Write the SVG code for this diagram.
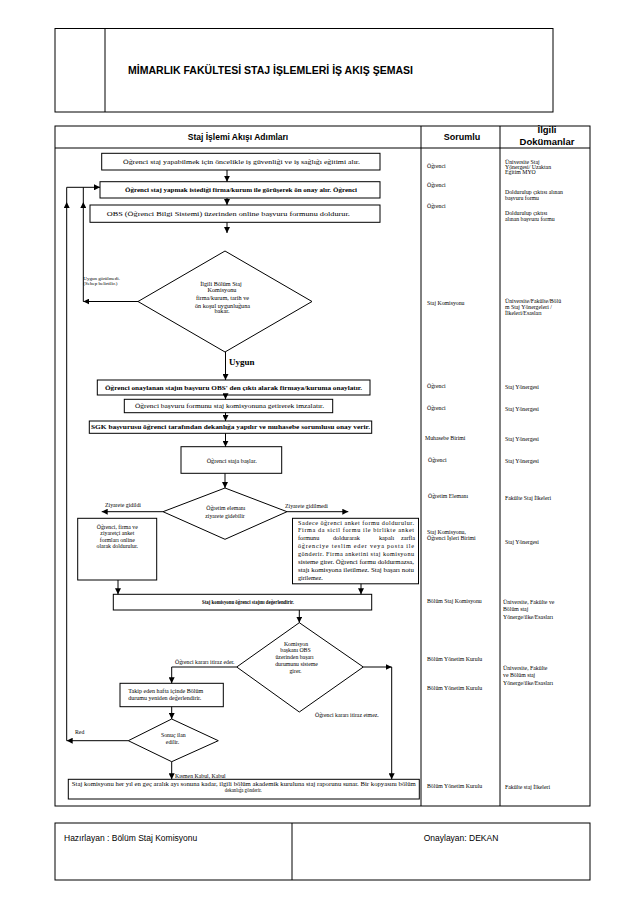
<svg xmlns="http://www.w3.org/2000/svg" width="633" height="901" viewBox="0 0 633 901">
<style>
.ln{fill:none;stroke:#000;stroke-width:1}
.bx{fill:#fff;stroke:#000;stroke-width:1}
.t{font-family:"Liberation Serif","Times New Roman",serif;fill:#000}
.s{font-family:"Liberation Sans",Arial,sans-serif;fill:#000}
.c{text-anchor:middle}
.b{font-weight:bold}
.f6{font-size:6px}
.fr{font-size:5.8px}
.cn{fill:none;stroke:#000;stroke-width:1}
</style>
<defs>
<marker id="ah" viewBox="0 0 6 6" refX="6" refY="3" markerWidth="6" markerHeight="6" markerUnits="userSpaceOnUse" orient="auto">
<path d="M0,0 L6,3 L0,6 z" fill="#000"/>
</marker>
</defs>
<rect width="633" height="901" fill="#fff"/>

<g id="header">
<rect class="ln" x="55" y="28.5" width="498" height="83.5"/>
<line class="ln" x1="105" y1="28.5" x2="105" y2="112"/>
<text class="s b" x="128" y="74" font-size="10" textLength="285" lengthAdjust="spacingAndGlyphs">MİMARLIK FAKÜLTESİ STAJ İŞLEMLERİ İŞ AKIŞ ŞEMASI</text>
</g>

<g id="table">
<rect class="ln" x="55" y="126" width="535" height="680"/>
<line class="ln" x1="55" y1="148" x2="590" y2="148"/>
<line class="ln" x1="421" y1="126" x2="421" y2="806"/>
<line class="ln" x1="500" y1="126" x2="500" y2="806"/>
<text class="s b c" x="238" y="140" font-size="8.5">Staj İşlemi Akışı Adımları</text>
<text class="s b c" x="462" y="140" font-size="9">Sorumlu</text>
<text class="s b c" x="547" y="133" font-size="9.5">İlgili</text>
<text class="s b c" x="547" y="145" font-size="9.5">Dokümanlar</text>
</g>

<g id="sorumlu" class="t fr">
<text x="427" y="167.5">Öğrenci</text>
<text x="427" y="187">Öğrenci</text>
<text x="427" y="208">Öğrenci</text>
<text x="427" y="304.5">Staj Komisyonu</text>
<text x="427" y="387.5">Öğrenci</text>
<text x="427" y="410">Öğrenci</text>
<text x="425" y="439.5">Muhasebe Birimi</text>
<text x="428" y="462">Öğrenci</text>
<text x="428" y="498">Öğretim Elemanı</text>
<text x="427" y="534">Staj Komisyonu,</text>
<text x="427" y="539.5">Öğrenci İşleri Birimi</text>
<text x="427" y="602.5">Bölüm Staj Komisyonu</text>
<text x="427" y="661">Bölüm Yönetim Kurulu</text>
<text x="427" y="690">Bölüm Yönetim Kurulu</text>
<text x="427" y="787.5">Bölüm Yönetim Kurulu</text>
</g>

<g id="dokumanlar" class="t fr">
<text x="505" y="164">Üniversite Staj</text>
<text x="505" y="169.2">Yönergesi/ Uzaktan</text>
<text x="505" y="174.4">Eğitim MYO</text>
<text x="505" y="194">Doldurulup çıktısı alınan</text>
<text x="505" y="200">başvuru formu</text>
<text x="505" y="215">Doldurulup çıktısı</text>
<text x="505" y="221">alınan başvuru formu</text>
<text x="505" y="303">Üniversite/Fakülte/Bölü</text>
<text x="505" y="309">m Staj Yönergeleri /</text>
<text x="505" y="315">İlkeleri/Esasları</text>
<text x="505" y="389">Staj Yönergesi</text>
<text x="505" y="411">Staj Yönergesi</text>
<text x="505" y="441">Staj Yönergesi</text>
<text x="505" y="463">Staj Yönergesi</text>
<text x="505" y="500">Fakülte Staj İlkeleri</text>
<text x="505" y="543.5">Staj Yönergesi</text>
<text x="503" y="604">Üniversite, Fakülte ve</text>
<text x="503" y="611">Bölüm staj</text>
<text x="503" y="618.5">Yönerge/ilke/Esasları</text>
<text x="503" y="669.5">Üniversite, Fakülte</text>
<text x="503" y="677">ve Bölüm staj</text>
<text x="503" y="684.5">Yönerge/ilke/Esasları</text>
<text x="505" y="789">Fakülte staj İlkeleri</text>
</g>

<g id="n1">
<rect class="bx" x="101.7" y="153.3" width="278.3" height="16.7"/>
<text class="t c f6" x="241.5" y="163.8" textLength="237" lengthAdjust="spacingAndGlyphs">Öğrenci staj yapabilmek için öncelikle iş güvenliği ve iş sağlığı eğitimi alır.</text>
</g>
<g id="n2">
<rect class="bx" x="100" y="181.7" width="280" height="16.3"/>
<text class="t c f6 b" x="241" y="192" textLength="232" lengthAdjust="spacingAndGlyphs">Öğrenci staj yapmak istediği firma/kurum ile görüşerek ön onay alır. Öğrenci</text>
</g>
<g id="n3">
<rect class="bx" x="90" y="205" width="290" height="17.3"/>
<text class="t c f6" x="228.3" y="215.8" textLength="243" lengthAdjust="spacingAndGlyphs">OBS (Öğrenci Bilgi Sistemi) üzerinden online başvuru formunu doldurur.</text>
</g>
<g id="d1">
<polygon class="bx" points="225,251 312,301.5 225,352 138,301.5"/>
<text class="t c" font-size="6.2" x="221" y="286.3">İlgili Bölüm Staj</text>
<text class="t c" font-size="6.2" x="222" y="292">Komisyonu</text>
<text class="t c" font-size="6.2" x="222.5" y="300.3">firma/kurum, tarih ve</text>
<text class="t c" font-size="6.2" x="222.5" y="307.7">ön koşul uygunluğuna</text>
<text class="t c" font-size="6.2" x="222" y="313">bakar.</text>
</g>
<g id="n4">
<rect class="bx" x="97.3" y="380" width="272.7" height="15"/>
<text class="t c f6 b" x="233.5" y="390" textLength="257" lengthAdjust="spacingAndGlyphs">Öğrenci onaylanan stajın başvuru OBS' den çıktı alarak firmaya/kuruma onaylatır.</text>
</g>
<g id="n5">
<rect class="bx" x="124.3" y="399.3" width="208.4" height="13.4"/>
<text class="t c f6" x="229.5" y="407.8" textLength="189" lengthAdjust="spacingAndGlyphs">Öğrenci başvuru formunu staj komisyonuna getirerek imzalatır.</text>
</g>
<g id="n6">
<rect class="bx" x="89.3" y="421" width="282.4" height="12.3"/>
<text class="t c f6 b" x="230.5" y="429.4" textLength="279" lengthAdjust="spacingAndGlyphs">SGK başvurusu öğrenci tarafından dekanlığa yapılır ve muhasebe sorumlusu onay verir.</text>
</g>
<g id="n7">
<rect class="bx" x="181" y="446.7" width="100.7" height="26.6"/>
<text class="t c f6" x="231.7" y="463" textLength="50" lengthAdjust="spacingAndGlyphs">Öğrenci staja başlar.</text>
</g>
<g id="d2">
<polygon class="bx" points="225,488 287,511.7 225,539.3 163,511.7"/>
<text class="t c" font-size="5.8" x="225.8" y="510.3">Öğretim elemanı</text>
<text class="t c" font-size="5.8" x="225" y="517.7">ziyarete gidebilir</text>
</g>
<g id="n_left">
<rect class="bx" x="77.7" y="518.3" width="79" height="61.7"/>
<g class="t c" font-size="5.8">
<text x="117.3" y="528.7">Öğrenci, firma ve</text>
<text x="117.3" y="535.3">ziyaretçi anket</text>
<text x="117.3" y="542">formları online</text>
<text x="117.3" y="548.3">olarak doldurulur.</text>
</g>
</g>
<g id="n_right">
<rect class="bx" x="292.5" y="518.3" width="126" height="65.5"/>
<g class="t" font-size="6.2">
<text x="298" y="524.5" textLength="116" lengthAdjust="spacing">Sadece öğrenci anket formu doldurulur.</text>
<text x="298" y="532.4" textLength="116" lengthAdjust="spacing">Firma da sicil formu ile birlikte anket</text>
<text x="298" y="540.3">formunu</text>
<text x="333" y="540.3">doldurarak</text>
<text x="379" y="540.3">kapalı</text>
<text x="401" y="540.3">zarfla</text>
<text x="298" y="548.2" textLength="116" lengthAdjust="spacing">öğrenciye teslim eder veya posta ile</text>
<text x="298" y="556.1" textLength="116" lengthAdjust="spacing">gönderir. Firma anketini staj komisyonu</text>
<text x="298" y="564" textLength="116" lengthAdjust="spacingAndGlyphs">sisteme girer. Öğrenci formu doldurmazsa,</text>
<text x="298" y="571.9" textLength="116" lengthAdjust="spacingAndGlyphs">stajı komisyona iletilmez. Staj başarı notu</text>
<text x="298" y="579.8">girilemez.</text>
</g>
</g>
<g id="n8">
<rect class="bx" x="113.3" y="594.3" width="258.4" height="15.7"/>
<text class="t c f6 b" x="248" y="604.3" textLength="92" lengthAdjust="spacingAndGlyphs">Staj komisyonu öğrenci stajını değerlendirir.</text>
</g>
<g id="d3">
<polygon class="bx" points="299.3,622.7 363.3,667 299.3,712 236.7,667"/>
<g class="t c" font-size="5.8">
<text x="296" y="645.5">Komisyon</text>
<text x="295.5" y="652.3">başkanı OBS</text>
<text x="294.5" y="659.1">üzerinden başarı</text>
<text x="296.5" y="665.9">durumunu sisteme</text>
<text x="295.5" y="672.7">girer.</text>
</g>
</g>
<g id="n9">
<rect class="bx" x="120" y="683.3" width="103.3" height="23.4"/>
<text class="t f6" x="128.3" y="693" textLength="75" lengthAdjust="spacingAndGlyphs">Takip eden hafta içinde Bölüm</text>
<text class="t f6" x="128.3" y="699.5" textLength="73" lengthAdjust="spacingAndGlyphs">durumu yeniden değerlendirir.</text>
</g>
<g id="d4">
<polygon class="bx" points="171.7,719 218.3,740.7 171.7,761.7 128.3,740.7"/>
<text class="t c" font-size="5.8" x="173.3" y="737">Sonuç ilan</text>
<text class="t c" font-size="5.8" x="172.5" y="744.3">edilir.</text>
</g>
<g id="n10">
<rect class="bx" x="68.3" y="779.3" width="351" height="19.7"/>
<text class="t c f6" x="243.8" y="785.6" textLength="344" lengthAdjust="spacingAndGlyphs">Staj komisyonu her yıl en geç aralık ayı sonuna kadar, ilgili bölüm akademik kuruluna staj raporunu sunar. Bir kopyasını bölüm</text>
<text class="t c f6" x="243.3" y="791.6" textLength="37" lengthAdjust="spacingAndGlyphs">dekanlığa gönderir.</text>
</g>

<g id="connectors">
<path class="cn" d="M227,170 V181.7" marker-end="url(#ah)"/>
<path class="cn" d="M227,198 V205" marker-end="url(#ah)"/>
<path class="cn" d="M227,222.3 V233" marker-end="url(#ah)"/>
<path class="cn" d="M225.5,352 V380" marker-end="url(#ah)"/>
<path class="cn" d="M225.5,395 V399.3" marker-end="url(#ah)"/>
<path class="cn" d="M225.5,412.7 V421" marker-end="url(#ah)"/>
<path class="cn" d="M225.5,433.3 V446.7" marker-end="url(#ah)"/>
<path class="cn" d="M225,473.3 V488" marker-end="url(#ah)"/>
<path class="cn" d="M163,511.7 H101.7" marker-end="url(#ah)"/>
<path class="cn" d="M287,511.7 H348.3" marker-end="url(#ah)"/>
<path class="cn" d="M118,580 V594.3" marker-end="url(#ah)"/>
<path class="cn" d="M361,583.8 V594.3" marker-end="url(#ah)"/>
<path class="cn" d="M299.3,610 V622.7" marker-end="url(#ah)"/>
<path class="cn" d="M236.7,667 H171.7 V683.3" marker-end="url(#ah)"/>
<path class="cn" d="M363.3,667 H391.7" marker-end="url(#ah)"/>
<path class="cn" d="M391.7,667 V779.3" marker-end="url(#ah)"/>
<path class="cn" d="M171.7,706.7 V719" marker-end="url(#ah)"/>
<path class="cn" d="M171.7,761.7 V779.3" marker-end="url(#ah)"/>
<path class="cn" d="M128.3,740.7 H66.7" marker-end="url(#ah)"/>
<path class="cn" d="M66.7,740.7 V202" marker-end="url(#ah)"/>
<path class="cn" d="M66.7,202 V187.3 H100" marker-end="url(#ah)"/>
<path class="cn" d="M138,301.5 H83.3" marker-end="url(#ah)"/>
<path class="cn" d="M83.3,301.5 V202" marker-end="url(#ah)"/>
<path class="cn" d="M83.3,202 V187.3"/>
</g>

<g id="labels" class="t">
<text font-size="5" x="83.3" y="280">Uygun görülmedi.</text>
<text font-size="5" x="83.3" y="284.5">(Sebep belirtilir.)</text>
<text class="b" font-size="9" x="229" y="364.5">Uygun</text>
<text font-size="5.8" x="105" y="507">Ziyarete gidildi</text>
<text font-size="5.8" x="285" y="507.7">Ziyarete gidilmedi</text>
<text font-size="5.8" x="175" y="664">Öğrenci kararı itiraz eder.</text>
<text font-size="5.8" x="315" y="717">Öğrenci kararı itiraz etmez.</text>
<text font-size="5.8" x="75" y="734">Red</text>
<text font-size="5.8" x="175" y="778">Kısmen Kabul, Kabul</text>
</g>

<g id="footer">
<rect class="ln" x="55" y="823" width="535" height="57"/>
<line class="ln" x1="292" y1="823" x2="292" y2="880"/>
<text class="s" font-size="8.5" x="64" y="841">Hazırlayan : Bölüm Staj Komisyonu</text>
<text class="s c" font-size="8.5" x="461" y="841">Onaylayan: DEKAN</text>
</g>
</svg>
